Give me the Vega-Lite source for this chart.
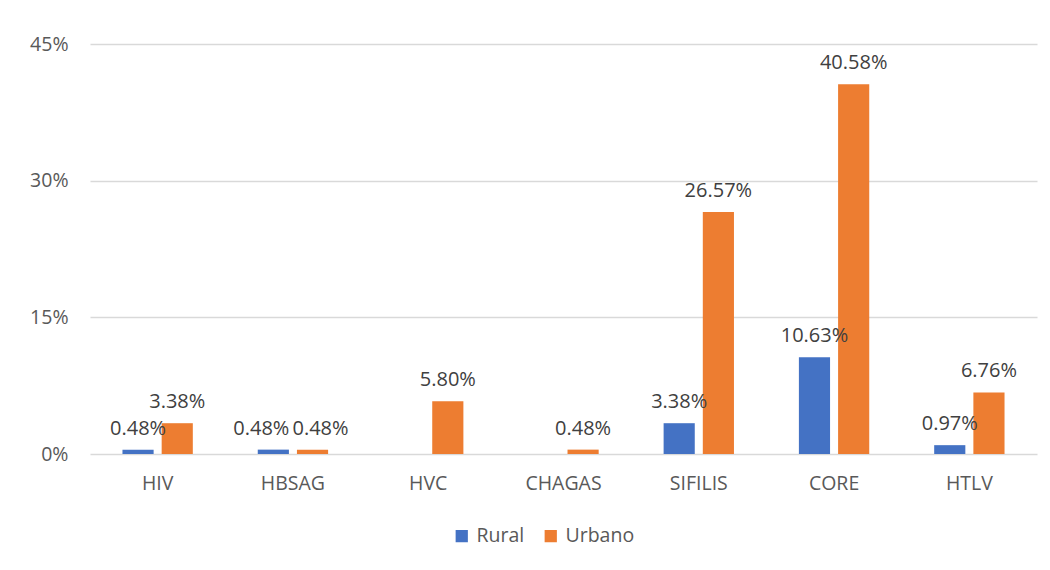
{
  "$schema": "https://vega.github.io/schema/vega-lite/v6.json",
  "autosize": {"type": "none"},
  "padding": {"left": 90, "top": 44, "right": 13, "bottom": 116},
  "width": 947,
  "height": 410,
  "background": "white",
  "config": {
    "font": "Open Sans",
    "view": {"stroke": null},
    "axis": {"labelFont": "Open Sans", "labelFontSize": 19.5, "labelColor": "#595959"},
    "legend": {"labelFont": "Open Sans", "labelFontSize": 19.5, "labelColor": "#595959"}
  },
  "data": {
    "values": [
      {"categoria": "HIV", "zona": "Rural", "valor": 0.0048},
      {"categoria": "HIV", "zona": "Urbano", "valor": 0.0338},
      {"categoria": "HBSAG", "zona": "Rural", "valor": 0.0048},
      {"categoria": "HBSAG", "zona": "Urbano", "valor": 0.0048},
      {"categoria": "HVC", "zona": "Rural", "valor": null},
      {"categoria": "HVC", "zona": "Urbano", "valor": 0.058},
      {"categoria": "CHAGAS", "zona": "Rural", "valor": null},
      {"categoria": "CHAGAS", "zona": "Urbano", "valor": 0.0048},
      {"categoria": "SIFILIS", "zona": "Rural", "valor": 0.0338},
      {"categoria": "SIFILIS", "zona": "Urbano", "valor": 0.2657},
      {"categoria": "CORE", "zona": "Rural", "valor": 0.1063},
      {"categoria": "CORE", "zona": "Urbano", "valor": 0.4058},
      {"categoria": "HTLV", "zona": "Rural", "valor": 0.0097},
      {"categoria": "HTLV", "zona": "Urbano", "valor": 0.0676}
    ]
  },
  "encoding": {
    "x": {
      "field": "categoria", "type": "nominal",
      "sort": ["HIV", "HBSAG", "HVC", "CHAGAS", "SIFILIS", "CORE", "HTLV"],
      "scale": {"paddingInner": 0.48, "paddingOuter": 0.24},
      "axis": {"title": null, "labelAngle": 0, "ticks": false, "domain": false, "labelPadding": 20}
    },
    "xOffset": {
      "field": "zona", "type": "nominal",
      "scale": {"domain": ["Rural", "Urbano"], "paddingInner": 0.205}
    },
    "y": {
      "field": "valor", "type": "quantitative",
      "scale": {"domain": [0, 0.45]},
      "axis": {
        "title": null, "values": [0, 0.15, 0.3, 0.45], "format": ".0%",
        "domain": false, "ticks": false, "labelPadding": 22,
        "gridColor": "#D9D9D9", "gridWidth": 1.5
      }
    }
  },
  "layer": [
    {
      "mark": {"type": "bar"},
      "encoding": {
        "color": {
          "field": "zona", "type": "nominal",
          "scale": {"domain": ["Rural", "Urbano"], "range": ["#4472C4", "#ED7D31"]},
          "legend": {
            "title": null, "orient": "none", "direction": "horizontal",
            "legendX": 362, "legendY": 482,
            "symbolType": "square", "symbolSize": 150, "columnPadding": 16, "labelOffset": 5
          }
        }
      }
    },
    {
      "transform": [{"filter": "datum.categoria !== 'HBSAG'"}],
      "mark": {"type": "text", "baseline": "alphabetic", "dy": -15, "fontSize": 20, "color": "#404040", "font": "Open Sans"},
      "encoding": {
        "text": {"field": "valor", "type": "quantitative", "format": ".2%"}
      }
    },
    {
      "transform": [{"filter": "datum.categoria === 'HBSAG' && datum.zona === 'Rural'"}],
      "mark": {"type": "text", "baseline": "alphabetic", "dy": -15, "dx": -12, "fontSize": 20, "color": "#404040", "font": "Open Sans"},
      "encoding": {
        "text": {"field": "valor", "type": "quantitative", "format": ".2%"}
      }
    },
    {
      "transform": [{"filter": "datum.categoria === 'HBSAG' && datum.zona === 'Urbano'"}],
      "mark": {"type": "text", "baseline": "alphabetic", "dy": -15, "dx": 8, "fontSize": 20, "color": "#404040", "font": "Open Sans"},
      "encoding": {
        "text": {"field": "valor", "type": "quantitative", "format": ".2%"}
      }
    }
  ]
}
